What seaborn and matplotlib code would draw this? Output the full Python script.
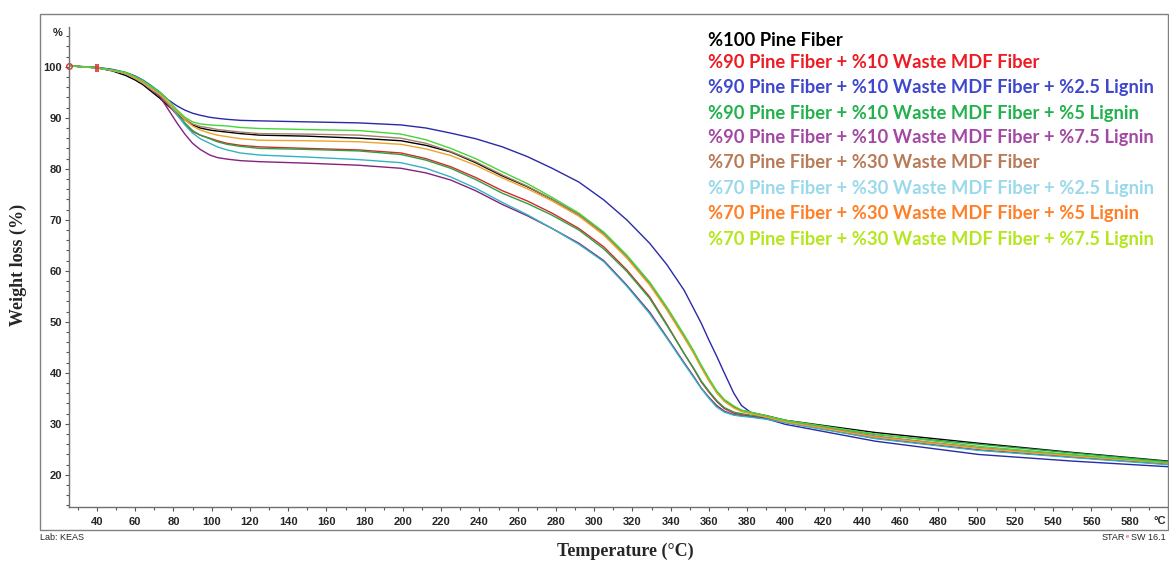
import numpy as np
import pandas as pd
import matplotlib
matplotlib.use("Agg")
import matplotlib.pyplot as plt
import seaborn as sns
from matplotlib.patches import Rectangle
from matplotlib.ticker import FixedLocator, MultipleLocator

# ---------------- data ----------------
temperature = [25, 40, 48, 55, 60, 64, 68, 73, 77, 82,
               86, 90, 94, 99, 103, 108, 115, 125, 150, 177,
               199, 212, 225, 238, 252, 265, 278, 292, 305, 317,
               329, 338, 347, 352, 356, 360, 364, 368, 373, 377,
               382, 390, 400, 447, 501, 550, 600]

pine100 = [100.2, 99.8, 99.2, 98.3, 97.4, 96.5, 95.3, 93.8, 92.4, 90.9,
           89.6, 88.6, 88.0, 87.6, 87.4, 87.2, 86.9, 86.6, 86.4, 86.0,
           85.5, 84.6, 83.3, 81.2, 78.6, 76.5, 74.0, 71.0, 67.3, 62.8,
           57.5, 52.6, 47.1, 44.0, 41.2, 38.6, 36.3, 34.6, 33.3, 32.6,
           32.2, 31.6, 30.7, 28.3, 26.2, 24.4, 22.7]
p90_m10 = [100.2, 99.8, 99.3, 98.7, 97.8, 96.9, 95.7, 94.2, 92.6, 90.5,
           88.8, 87.3, 86.6, 86.0, 85.5, 85.0, 84.6, 84.3, 84.0, 83.7,
           83.1, 82.0, 80.4, 78.3, 75.7, 73.7, 71.3, 68.3, 64.7, 60.2,
           54.9, 49.5, 43.8, 40.8, 38.2, 36.2, 34.4, 33.0, 32.1, 31.8,
           31.5, 31.1, 30.4, 27.5, 25.3, 23.8, 22.4]
p90_m10_l25 = [100.2, 99.9, 99.5, 98.9, 98.2, 97.4, 96.4, 95.0, 93.6, 92.3,
               91.5, 90.9, 90.5, 90.1, 89.9, 89.7, 89.5, 89.4, 89.2, 89.0,
               88.6, 88.0, 87.0, 85.9, 84.3, 82.4, 80.1, 77.4, 73.9, 70.0,
               65.4, 61.2, 56.2, 52.6, 49.7, 46.4, 43.3, 40.0, 36.0, 33.6,
               32.2, 31.0, 29.9, 26.6, 24.0, 22.7, 21.6]
p90_m10_l5 = [100.2, 99.8, 99.3, 98.7, 97.8, 96.9, 95.8, 94.5, 92.9, 90.8,
              89.0, 87.5, 86.6, 85.9, 85.3, 84.8, 84.4, 84.0, 83.8, 83.5,
              82.8, 81.7, 80.1, 77.9, 75.2, 73.2, 70.9, 68.0, 64.3, 59.9,
              54.6, 49.3, 43.8, 40.9, 38.4, 36.4, 34.6, 33.2, 32.3, 32.0,
              31.7, 31.3, 30.6, 27.9, 26.0, 24.3, 22.6]
p90_m10_l75 = [100.2, 99.8, 99.3, 98.7, 97.8, 96.8, 95.7, 94.1, 91.8, 88.9,
               86.8, 85.0, 83.8, 82.7, 82.2, 81.9, 81.6, 81.4, 81.1, 80.7,
               80.1, 79.2, 77.8, 75.7, 73.0, 70.8, 68.3, 65.4, 62.0, 57.2,
               51.9, 47.0, 42.0, 39.3, 37.0, 35.2, 33.6, 32.5, 31.8, 31.6,
               31.4, 31.0, 30.3, 27.2, 24.9, 23.5, 22.1]
p70_m30 = [100.2, 99.8, 99.3, 98.7, 97.7, 96.8, 95.7, 94.4, 93.0, 91.2,
           89.8, 88.8, 88.3, 88.0, 87.7, 87.5, 87.2, 86.9, 86.8, 86.6,
           86.0, 85.0, 83.4, 81.4, 78.8, 76.6, 74.0, 71.0, 67.3, 62.8,
           57.5, 52.6, 47.2, 44.0, 41.2, 38.6, 36.2, 34.5, 33.2, 32.5,
           32.1, 31.4, 30.5, 27.6, 25.3, 23.8, 22.4]
p70_m30_l25 = [100.2, 99.8, 99.3, 98.7, 97.9, 97.0, 96.0, 94.8, 93.0, 90.6,
               88.6, 87.0, 85.9, 85.0, 84.3, 83.7, 83.1, 82.7, 82.3, 81.8,
               81.2, 80.1, 78.4, 76.2, 73.4, 71.0, 68.3, 65.2, 61.8, 57.0,
               51.6, 46.8, 41.8, 39.1, 36.9, 35.0, 33.3, 32.3, 31.7, 31.5,
               31.3, 30.9, 30.2, 27.1, 24.8, 23.4, 22.0]
p70_m30_l5 = [100.2, 99.8, 99.3, 98.7, 97.8, 96.9, 95.8, 94.6, 93.1, 91.2,
              89.6, 88.4, 87.6, 87.0, 86.6, 86.3, 85.9, 85.6, 85.5, 85.3,
              84.8, 83.9, 82.6, 80.7, 78.2, 76.1, 73.7, 70.7, 67.0, 62.5,
              57.2, 52.3, 46.9, 43.8, 41.0, 38.4, 36.1, 34.4, 33.1, 32.4,
              32.0, 31.3, 30.4, 27.4, 25.2, 23.7, 22.3]
p70_m30_l75 = [100.2, 99.8, 99.4, 98.9, 98.1, 97.3, 96.3, 95.0, 93.6, 91.5,
               90.1, 89.2, 88.8, 88.6, 88.5, 88.4, 88.1, 87.9, 87.7, 87.5,
               86.8, 85.7, 84.0, 82.0, 79.4, 77.1, 74.4, 71.3, 67.6, 63.1,
               57.8, 52.9, 47.5, 44.3, 41.5, 38.9, 36.5, 34.8, 33.5, 32.7,
               32.3, 31.6, 30.7, 28.0, 25.6, 24.0, 22.4]

series_names = [
    "%100 Pine Fiber",
    "%90 Pine Fiber + %10 Waste MDF Fiber",
    "%90 Pine Fiber + %10 Waste MDF Fiber + %2.5 Lignin",
    "%90 Pine Fiber + %10 Waste MDF Fiber + %5 Lignin",
    "%90 Pine Fiber + %10 Waste MDF Fiber + %7.5 Lignin",
    "%70 Pine Fiber + %30 Waste MDF Fiber",
    "%70 Pine Fiber + %30 Waste MDF Fiber + %2.5 Lignin",
    "%70 Pine Fiber + %30 Waste MDF Fiber + %5 Lignin",
    "%70 Pine Fiber + %30 Waste MDF Fiber + %7.5 Lignin",
]
series_values = [pine100, p90_m10, p90_m10_l25, p90_m10_l5, p90_m10_l75,
                 p70_m30, p70_m30_l25, p70_m30_l5, p70_m30_l75]
line_colors = ["#000000", "#d42a2a", "#2a2aa8", "#2ea043", "#83237f",
               "#a5806a", "#33b3c0", "#f0a22a", "#44d63a"]
legend_colors = ["#000000", "#ed1c24", "#3f48cc", "#22b14c", "#a349a4",
                 "#b97a57", "#99d9ea", "#ff7f27", "#b5e61d"]

x_major = [40, 60, 80, 100, 120, 140, 160, 180, 200, 220, 240, 260, 280, 300, 320,
           340, 360, 380, 400, 420, 440, 460, 480, 500, 520, 540, 560, 580]
y_major = [20, 30, 40, 50, 60, 70, 80, 90, 100]

# ---------------- figure ----------------
sns.set_theme(style="white")
plt.rcParams['font.family'] = ['Liberation Sans', 'DejaVu Sans']

W, H = 1169, 561
fig = plt.figure(figsize=(W / 100, H / 100), dpi=100)
fig.patch.set_facecolor("white")


def fx(px):
    return px / W


def fy(py):
    return 1 - py / H


ax = fig.add_axes([fx(69), fy(507), fx(1168) - fx(69), fy(27) - fy(507)])
ax.set_facecolor("white")

df = pd.concat(
    [pd.DataFrame({"T": temperature, "W": vals, "Series": name})
     for name, vals in zip(series_names, series_values)],
    ignore_index=True)

sns.lineplot(data=df, x="T", y="W", hue="Series", hue_order=series_names,
             palette=dict(zip(series_names, line_colors)), linewidth=1.0,
             estimator=None, sort=False, legend=False, ax=ax)

# small red evaluation-limit markers
ax.plot([25.6], [100.2], marker="o", ms=4, mfc="none", mec="#e03030", mew=1.0, clip_on=False)
ax.plot([39.3, 40.6], [99.85, 99.85], ls="none", marker="|", ms=6, mec="#e03030", mew=1.2)

ax.set_xlim(25.4, 600)
ax.set_ylim(13.7, 107.8)

ax.xaxis.set_major_locator(FixedLocator(x_major))
ax.xaxis.set_minor_locator(MultipleLocator(10))
ax.yaxis.set_major_locator(FixedLocator(y_major))
ax.yaxis.set_minor_locator(MultipleLocator(2))

ax.tick_params(axis="both", which="both", bottom=True, left=True, top=False, right=False)
ax.tick_params(axis="both", which="major", direction="out", length=3, width=0.8,
               color="#555555", labelsize=8)
ax.tick_params(axis="both", which="minor", direction="out", length=2.5, width=0.8,
               color="#555555")
ax.tick_params(axis="x", which="major", pad=4)
ax.tick_params(axis="y", which="major", pad=2)
for lab in ax.get_xticklabels() + ax.get_yticklabels():
    lab.set_fontweight("bold")

for s in ["top", "right"]:
    ax.spines[s].set_visible(False)
for s in ["left", "bottom"]:
    ax.spines[s].set_color("#707070")
    ax.spines[s].set_linewidth(1.0)
ax.set_xlabel("")
ax.set_ylabel("")

# outer frame
fig.patches.append(Rectangle((fx(40), fy(530)), fx(1168) - fx(40), fy(14) - fy(530),
                             transform=fig.transFigure, fill=False,
                             edgecolor="#808080", linewidth=1.0))

# unit labels
fig.text(fx(58), fy(33), "%", ha="center", va="center", fontsize=8, fontweight="bold")
fig.text(fx(1160), fy(521), "°C", ha="center", va="center", fontsize=8, fontweight="bold")

# axis titles
fig.text(fx(18), fy(265), "Weight loss (%)", rotation=90, ha="center", va="center",
         fontsize=13, fontweight="bold", family=["Liberation Serif", "DejaVu Serif"])
fig.text(fx(625), fy(551), "Temperature (°C)", ha="center", va="center",
         fontsize=13, fontweight="bold", family=["Liberation Serif", "DejaVu Serif"])

# footer
fig.text(fx(40), fy(538), "Lab: KEAS", ha="left", va="center", fontsize=6.5)
fig.text(fx(1125), fy(538), "STAR", ha="right", va="center", fontsize=6.5)
fig.text(fx(1126), fy(536), "e", ha="left", va="center", fontsize=4, color="#e02020")
fig.text(fx(1131), fy(538), "SW 16.1", ha="left", va="center", fontsize=6.5)

# custom legend (coloured text lines)
legend_y = [40, 63, 88, 113, 138, 163, 188, 213, 239]
for name, col, yy in zip(series_names, legend_colors, legend_y):
    fig.text(fx(708), fy(yy), name, ha="left", va="center", fontsize=13.2,
             fontweight="bold", color=col, family=["Lato", "DejaVu Sans"])

fig.savefig("out.png", dpi=100, facecolor="white")
